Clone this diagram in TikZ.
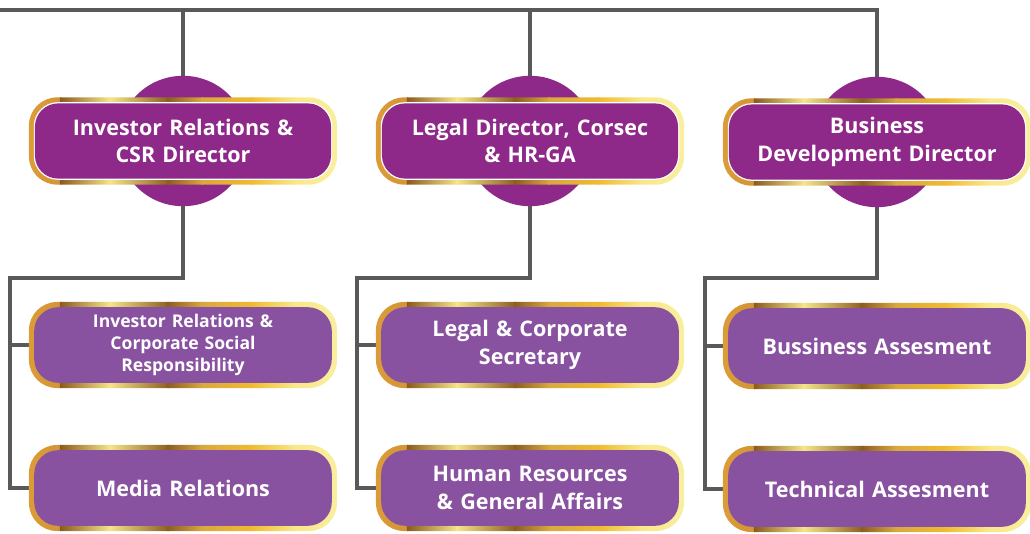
\documentclass[tikz,border=0pt]{standalone}
\usepackage{fontspec}
\setmainfont{Open Sans}
\usepackage{tikz}
\usetikzlibrary{backgrounds,calc}

\definecolor{dirpurple}{HTML}{8E2989}
\definecolor{subpurple}{HTML}{8852A0}
\definecolor{linegray}{HTML}{595959}
\definecolor{goldA}{HTML}{DB9C38}
\definecolor{goldB}{HTML}{8B5A1E}
\definecolor{goldC}{HTML}{F5E68A}
\definecolor{goldD}{HTML}{8C5E22}
\definecolor{goldE}{HTML}{D8A840}
\definecolor{goldF}{HTML}{F0BA30}
\definecolor{goldG}{HTML}{F8E88A}
\definecolor{goldH}{HTML}{F8EFA0}

% gold ring, left to right
\newcommand\goldbands{%
  \foreach \a/\b/\ca/\cb in {0/0.1/goldA/goldB, 0.1/0.26/goldB/goldC, 0.26/0.45/goldC/goldD,
      0.45/0.56/goldD/goldE, 0.56/0.72/goldE/goldF, 0.72/0.86/goldF/goldG, 0.86/1/goldG/goldH}
    \shade[sharp corners, left color=\ca, right color=\cb]
      ($(path picture bounding box.south west)!\a!(path picture bounding box.south east)$) rectangle
      ($(path picture bounding box.north west)!\b!(path picture bounding box.north east)+(1pt,0)$);}

\tikzset{
  ring/.style={rounded corners=0.7cm, minimum width=7.7cm, text width=7.4cm,
    align=center, text=white, inner sep=0pt},
  director/.style={ring, minimum height=2.18cm, font=\bfseries\fontsize{15.3}{19.5}\selectfont,
    path picture={\goldbands
      \fill[white, rounded corners=0.6cm]
        ([shift={(0.12cm,0.12cm)}]path picture bounding box.south west) rectangle
        ([shift={(-0.12cm,-0.12cm)}]path picture bounding box.north east);
      \fill[dirpurple, rounded corners=0.58cm]
        ([shift={(0.15cm,0.15cm)}]path picture bounding box.south west) rectangle
        ([shift={(-0.15cm,-0.15cm)}]path picture bounding box.north east);}},
  unit/.style={ring, minimum height=2.15cm, font=\bfseries\fontsize{15.3}{19.5}\selectfont,
    path picture={\goldbands
      \fill[subpurple, rounded corners=0.6cm]
        ([shift={(0.13cm,0.13cm)}]path picture bounding box.south west) rectangle
        ([shift={(-0.13cm,-0.13cm)}]path picture bounding box.north east);}},
  small/.style={font=\bfseries\fontsize{12.5}{15.6}\selectfont},
  conn/.style={draw=linegray, line width=2.4pt},
}

\begin{document}
\begin{tikzpicture}[x=0.025cm, y=-0.025cm]
  \useasboundingbox (0,0) rectangle (1030,533);

  % directors
  \node[director] (dirIR) at (183,141) {Investor Relations \&\\CSR Director};
  \node[director] (dirLG) at (530,141) {Legal Director, Corsec\\\& HR-GA};
  \node[director] (dirBD) at (877,142) {Business\\Development Director};

  % units
  \node[unit, small] (irCSR) at (183,345) {Investor Relations \&\\Corporate Social\\Responsibility};
  \node[unit] (irMedia) at (183,488) {Media Relations};
  \node[unit] (lgCorsec) at (530,345) {Legal \& Corporate\\Secretary};
  \node[unit] (lgHRGA) at (530,488) {Human Resources\\\& General Affairs};
  \node[unit] (bdBiz) at (877,346) {Bussiness Assesment};
  \node[unit] (bdTech) at (877,489) {Technical Assesment};

  \coordinate (top) at (0,10);
  \coordinate (irBus) at (10,278);
  \coordinate (lgBus) at (357,278);
  \coordinate (bdBus) at (705,278);

  \begin{scope}[on background layer]
    % lines
    \draw[conn] (top) -| (dirBD);
    \draw[conn] (dirIR) -- (dirIR |- top);
    \draw[conn] (dirLG) -- (dirLG |- top);

    \draw[conn] (dirIR) |- (irBus) |- (irMedia);
    \draw[conn] (irBus) |- (irCSR);
    \draw[conn] (dirLG) |- (lgBus) |- (lgHRGA);
    \draw[conn] (lgBus) |- (lgCorsec);
    \draw[conn] (dirBD) |- (bdBus) |- (bdTech);
    \draw[conn] (bdBus) |- (bdBiz);

    % circles behind directors
    \fill[dirpurple] (dirIR) circle (1.63cm);
    \fill[dirpurple] (dirLG) circle (1.63cm);
    \fill[dirpurple] (dirBD) circle (1.63cm);
  \end{scope}
\end{tikzpicture}
\end{document}
